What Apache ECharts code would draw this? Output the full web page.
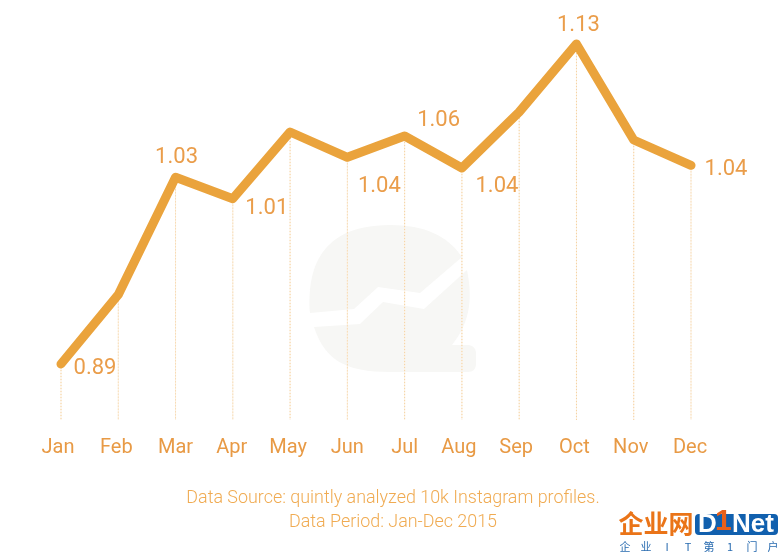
<!DOCTYPE html>
<html>
<head>
<meta charset="utf-8">
<style>html,body{margin:0;padding:0;background:#fff}#main{width:778px;height:552px}</style>
<script src="https://cdn.jsdelivr.net/npm/echarts@6/dist/echarts.min.js"></script>
</head>
<body>
<div id="main"></div>
<script>
var months = ["Jan", "Feb", "Mar", "Apr", "May", "Jun", "Jul", "Aug", "Sep", "Oct", "Nov", "Dec"];
// heights read off the line, not every month has a printed label
var values = [0.89, 0.942, 1.03, 1.014, 1.064, 1.045, 1.061, 1.037, 1.079, 1.13, 1.058, 1.039];
var printedLabels = ["0.89", "", "1.03", "1.01", "", "1.04", "1.06", "1.04", "", "1.13", "", "1.04"];
var noteLines = ["Data Source: quintly analyzed 10k Instagram profiles.", "Data Period: Jan-Dec 2015"];

var yMin = 0.848;
var labelOffsets = [[34, 4], [0, 0], [1, -20], [34, 10], [0, 0], [32, 29], [34, -16], [35, 18], [0, 0], [2, -19], [0, 0], [35, 4]];
// the month labels sit a little unevenly in the original
var monthPadRight = [6, 4, 0, 2, 4, 0, 0, 6, 6, 4, 6, 2];
var lineColor = "#eaa33c";
var textColor = "#e89a45";
var labelColor = "#ea9d4a";
var noteColor = "#f0ab52";
var watermarkPath = "M310 313C308 280 312 225 390 225C425 225 448 236 462 257L420 293L378 287L354 309Z" +
  "M314 327L360 324L383 302L424 309L467 270C472 295 472 320 452 345L468 345C473 345 476 349 476 353L476 364C476 369 473 372 468 372L390 372C345 372 325 360 314 327Z";

var chartDom = document.getElementById("main");
var myChart = echarts.init(chartDom);

function noteText(text, y) {
  return {
    type: "text", x: 393, y: y, z: 5,
    style: { text: text, fill: noteColor, font: "300 17.9px Roboto", textAlign: "center" }
  };
}

function logoChar(text, x) {
  return {
    type: "text", x: x, y: 541, z: 5,
    style: { text: text, fill: "#2a6cb0", font: "11px 'Noto Sans CJK SC'", textAlign: "center" }
  };
}

var option = {
  animation: false,
  backgroundColor: "#fff",
  grid: { left: 61, right: 87, top: 20, height: 400 },
  xAxis: {
    type: "category",
    data: months.map(function (m, i) {
      return { value: m, textStyle: { padding: [0, monthPadRight[i], 0, 0] } };
    }),
    boundaryGap: false,
    axisLine: { show: false },
    axisTick: { show: false },
    splitLine: { show: false },
    axisLabel: {
      color: textColor, fontFamily: "Roboto", fontSize: 20, margin: 18, interval: 0
    }
  },
  yAxis: { type: "value", min: yMin, max: 1.148, show: false },
  graphic: [
    noteText(noteLines[0], 490),
    noteText(noteLines[1], 514),
    { type: "rect", z: 4, shape: { x: 695, y: 514, width: 83, height: 21, r: 4 }, style: { fill: "#1160ae" } },
    { type: "text", x: 656, y: 511, z: 5, style: { text: "企业网", font: "bold 25px 'Noto Sans CJK SC'", textAlign: "center", fill: "#ea7418" } },
    { type: "text", x: 698, y: 512, z: 5, style: { text: "D", fill: "#fff", font: "bold 26px 'Liberation Sans'" } },
    { type: "text", x: 715, y: 507, z: 6, style: { text: "1", fill: "#e8601a", font: "bold 30px 'Liberation Sans'" } },
    { type: "text", x: 732, y: 512, z: 5, style: { text: "Net", fill: "#fff", font: "bold 26px 'Liberation Sans'" } },
    logoChar("企", 625), logoChar("业", 646), logoChar("I", 667), logoChar("T", 688),
    logoChar("第", 709), logoChar("1", 730), logoChar("门", 752), logoChar("户", 773)
  ],
  series: [
    {
      // faint watermark behind the plot
      type: "custom",
      z: 0,
      silent: true,
      data: [0],
      renderItem: function () {
        return { type: "path", shape: { pathData: watermarkPath }, style: { fill: "#f7f7f5" } };
      }
    },
    {
      // dotted drop lines from each point to the baseline
      type: "custom",
      z: 1,
      silent: true,
      clip: false,
      encode: { x: 0, y: 1 },
      data: values.map(function (v, i) {
        return [i, v];
      }),
      renderItem: function (params, api) {
        var top = api.coord([api.value(0), api.value(1)]);
        var bottom = api.coord([api.value(0), yMin]);
        var shape = { x1: top[0], y1: top[1], x2: bottom[0], y2: bottom[1] };
        return {
          type: "group",
          children: [
            { type: "line", shape: shape, style: { stroke: "#fbefe0", lineWidth: 1, fill: null } },
            { type: "line", shape: shape, style: { stroke: "#f6d39f", lineWidth: 1, fill: null, lineDash: [1, 2] } }
          ]
        };
      }
    },
    {
      type: "line",
      z: 3,
      symbol: "circle",
      symbolSize: 1,
      showSymbol: true,
      showAllSymbol: true,
      itemStyle: { color: lineColor },
      lineStyle: { color: lineColor, width: 9, cap: "round", join: "round" },
      data: values.map(function (v, i) {
        return {
          value: v,
          label: {
            show: printedLabels[i] !== "",
            formatter: printedLabels[i],
            position: "inside",
            align: "center",
            verticalAlign: "middle",
            offset: labelOffsets[i],
            color: labelColor,
            fontFamily: "Roboto",
            fontSize: 22
          }
        };
      })
    }
  ]
};
myChart.setOption(option);
</script>
</body>
</html>
